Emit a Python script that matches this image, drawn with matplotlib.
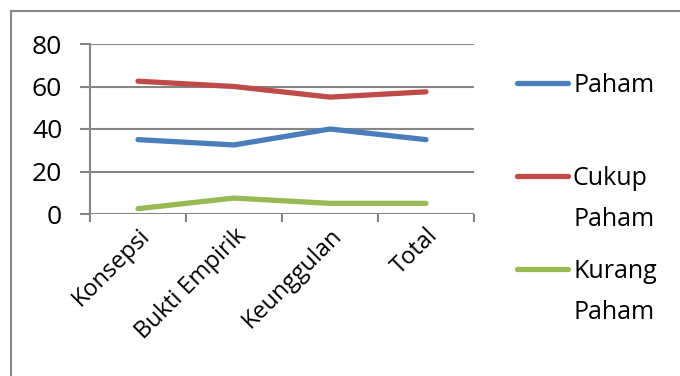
import matplotlib.pyplot as plt
from matplotlib.lines import Line2D
from matplotlib.patches import Rectangle
from matplotlib.ticker import FixedLocator

plt.rcParams['font.family'] = ['Open Sans', 'DejaVu Sans']

kategori = ['Konsepsi', 'Bukti Empirik', 'Keunggulan', 'Total']
paham = [35, 32.5, 40, 35]
cukup_paham = [62.5, 60, 55, 57.5]
kurang_paham = [2.5, 7.5, 5, 5]

seri = [
    ('Paham', paham, '#4A7EBB'),
    ('Cukup\nPaham', cukup_paham, '#BE4B48'),
    ('Kurang\nPaham', kurang_paham, '#98B954'),
]

grid_col = '#868686'

fig = plt.figure(figsize=(6.8, 3.76), dpi=100)
ax = fig.add_axes([90 / 680, 1 - 214 / 376, 384 / 680, 170 / 376])

x = list(range(len(kategori)))
for nama, nilai, warna in seri:
    ax.plot(x, nilai, color=warna, lw=3.8, solid_capstyle='round',
            solid_joinstyle='round', zorder=3)

ax.set_xlim(-0.5, len(kategori) - 0.5)
ax.set_ylim(0, 80)
ax.set_yticks([0, 20, 40, 60, 80])
ax.yaxis.grid(True, color=grid_col, lw=1.5)
ax.set_axisbelow(True)
ax.tick_params(axis='y', length=7, width=1.5, color=grid_col, pad=13, labelsize=19)

ax.set_xticks(x)
ax.set_xticklabels(kategori, rotation=45, ha='right', va='top',
                   rotation_mode='anchor', fontsize=17)
ax.xaxis.set_minor_locator(FixedLocator([i - 0.5 for i in range(len(kategori) + 1)]))
ax.tick_params(axis='x', which='major', length=0, pad=7)
ax.tick_params(axis='x', which='minor', length=6, width=1.5, color=grid_col)

for s in ['top', 'right', 'bottom']:
    ax.spines[s].set_visible(False)
ax.spines['left'].set_color(grid_col)
ax.spines['left'].set_linewidth(1.5)

# legenda manual, label panjang dipecah per baris
ly = [83, 176, 269]
for (nama, nilai, warna), y in zip(seri, ly):
    yf = 1 - y / 376
    fig.add_artist(Line2D([517 / 680, 568 / 680], [yf, yf], color=warna, lw=3.8,
                          solid_capstyle='round'))
    for i, baris in enumerate(nama.split('\n')):
        fig.text(573 / 680, 1 - (y + 9 + 41 * i) / 376, baris, fontsize=18,
                 va='baseline', ha='left')

# bingkai bagan
fig.add_artist(Rectangle((11 / 680, -0.1), 1.2, 1 - 11 / 376 + 0.1,
                         transform=fig.transFigure, fill=False,
                         edgecolor=grid_col, lw=1.5))

fig.savefig('out.png', dpi=100)
